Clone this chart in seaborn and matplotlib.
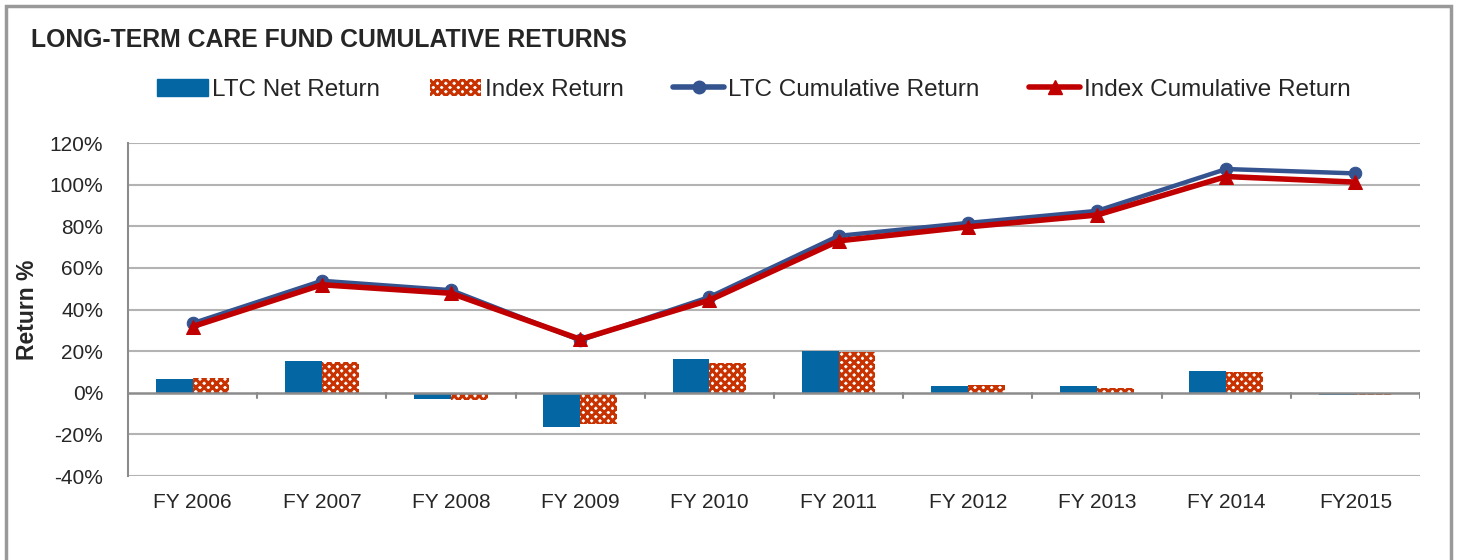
import seaborn as sns
import matplotlib.pyplot as plt
import matplotlib.patches as mpatches
from matplotlib.lines import Line2D
import numpy as np
import pandas as pd

years = ["FY 2006", "FY 2007", "FY 2008", "FY 2009", "FY 2010",
         "FY 2011", "FY 2012", "FY 2013", "FY 2014", "FY2015"]
ltc_net = [6.8, 15.1, -3.2, -16.4, 16.3, 20.1, 3.1, 3.1, 10.4, -0.9]
index_ret = [7.1, 14.8, -3.3, -15.0, 14.4, 19.5, 3.6, 2.5, 9.9, -1.2]
ltc_cum = [33.4, 53.8, 49.3, 25.2, 46.0, 75.4, 81.6, 87.4, 107.5, 105.4]
index_cum = [31.8, 51.9, 47.8, 25.7, 44.5, 73.0, 79.7, 85.4, 103.9, 101.2]

blue_bar = "#0466A3"
red_hatch = "#C83200"
blue_line = "#34538F"
red_line = "#C00000"
grid_col = "#B3B3B3"

sns.set_theme(style="white")
plt.rcParams['font.family'] = ['Liberation Sans', 'DejaVu Sans']
plt.rcParams['hatch.linewidth'] = 2.2

bars = pd.DataFrame({
    "year": years * 2,
    "value": ltc_net + index_ret,
    "series": ["LTC Net Return"] * len(years) + ["Index Return"] * len(years),
})

fig = plt.figure(figsize=(14.57, 5.6), dpi=100)
ax = fig.add_axes([0.0879, 0.15, 0.8867, 0.5946])

sns.barplot(data=bars, x="year", y="value", hue="series", order=years,
            hue_order=["LTC Net Return", "Index Return"],
            palette=[blue_bar, "white"], width=0.57, gap=0,
            saturation=1, legend=False, ax=ax, zorder=2)

# second container is the index bars -> checkered look
for p in ax.containers[1]:
    p.set_hatch("xxxx")
    p.set_edgecolor(red_hatch)
    p.set_linewidth(0)
for p in ax.containers[0]:
    p.set_linewidth(0)

pos = np.arange(len(years))
sns.lineplot(x=pos, y=ltc_cum, color=blue_line, lw=3.2, marker="o",
             markersize=9, markeredgecolor=blue_line, ax=ax, zorder=4)
sns.lineplot(x=pos, y=index_cum, color=red_line, lw=4, marker="^",
             markersize=10, markeredgecolor=red_line, ax=ax, zorder=5)

ax.set_ylim(-40, 120)
ax.set_xlim(-0.5, len(years) - 0.5)
ax.set_yticks(np.arange(-40, 121, 20))
ax.set_yticklabels([f"{v}%" for v in range(-40, 121, 20)], fontsize=15)
ax.set_xticks(pos)
ax.set_xticklabels(years, fontsize=15)
ax.tick_params(axis="x", length=0, pad=12)
ax.tick_params(axis="y", length=6, color="#888888", direction="out", pad=12)
for y in range(-40, 121, 20):
    if y != 0:
        ax.axhline(y, color=grid_col, lw=1.5, zorder=0)
ax.axhline(0, color="#8C8C8C", lw=1.8, zorder=3)
# category divider ticks on zero line
for b in np.arange(0.5, len(years) - 0.5, 1.0):
    ax.plot([b, b], [0, -2.5], color="#8C8C8C", lw=1.5, zorder=3, clip_on=False)
ax.plot([len(years) - 0.5] * 2, [0, -2.5], color="#8C8C8C", lw=1.5, zorder=3)

for s in ["top", "right", "bottom"]:
    ax.spines[s].set_visible(False)
ax.spines["left"].set_color("#8C8C8C")
ax.spines["left"].set_linewidth(1.5)
ax.set_xlabel("")
ax.set_ylabel("Return %", fontsize=16.5, fontweight="bold")
ax.yaxis.set_label_coords(-0.078, 0.5)
ax.yaxis.label.set_va("center")

fig.text(0.021, 0.929, "LONG-TERM CARE FUND CUMULATIVE RETURNS",
         fontsize=17.8, fontweight="bold", va="center")

handles = [
    mpatches.Patch(facecolor=blue_bar, edgecolor=blue_bar),
    mpatches.Patch(facecolor="white", edgecolor=red_hatch, hatch="xxxx", lw=0),
    Line2D([], [], color=blue_line, lw=4, marker="o", markersize=9),
    Line2D([], [], color=red_line, lw=4, marker="^", markersize=10),
]
labels = ["LTC Net Return", "Index Return", "LTC Cumulative Return",
          "Index Cumulative Return"]
fig.legend(handles, labels, loc="center left", bbox_to_anchor=(0.093, 0.840),
           ncol=4, frameon=False, fontsize=17.5, handlelength=2.1,
           handletextpad=0.15, columnspacing=2.05, handleheight=0.7)

fig.patches.append(mpatches.Rectangle((0.004, -0.02), 0.992, 1.009,
                                      transform=fig.transFigure, fill=False,
                                      edgecolor="#999999", lw=2.5))

fig.savefig("out.png", dpi=100)
